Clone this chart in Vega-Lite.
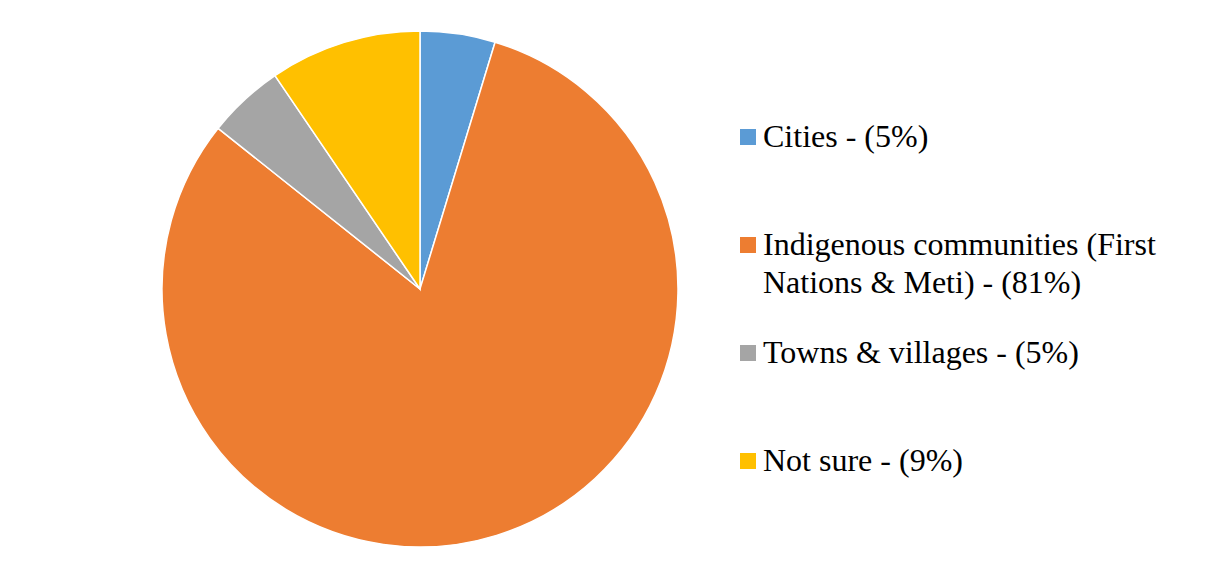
{
  "$schema": "https://vega.github.io/schema/vega-lite/v6.json",
  "width": 840,
  "height": 574,
  "padding": {"left": 0, "top": 2, "right": 385, "bottom": 0},
  "autosize": {"type": "none"},
  "background": "white",
  "config": {"view": {"stroke": null}, "style": {"guide-label": {"lineHeight": 38}}},
  "data": {
    "values": [
      {"i": 1, "category": "Cities - (5%)", "value": 4.7},
      {"i": 2, "category": "Indigenous communities (First Nations & Meti) - (81%)", "value": 81.0},
      {"i": 3, "category": "Towns & villages - (5%)", "value": 4.8},
      {"i": 4, "category": "Not sure - (9%)", "value": 9.5}
    ]
  },
  "mark": {"type": "arc", "outerRadius": 258, "stroke": "white", "strokeWidth": 1.5},
  "encoding": {
    "theta": {"field": "value", "type": "quantitative", "stack": true},
    "order": {"field": "i", "type": "quantitative"},
    "color": {
      "field": "category",
      "type": "nominal",
      "scale": {
        "domain": ["Cities - (5%)", "Indigenous communities (First Nations & Meti) - (81%)", "Towns & villages - (5%)", "Not sure - (9%)"],
        "range": ["#5B9BD5", "#ED7D31", "#A5A5A5", "#FFC000"]
      },
      "legend": {
        "title": null,
        "orient": "none",
        "legendX": 732,
        "legendY": 119,
        "direction": "vertical",
        "columns": 1,
        "gridAlign": "all",
        "symbolType": "square",
        "symbolSize": 256,
        "symbolStrokeWidth": 0,
        "labelFont": "Liberation Serif",
        "labelFontSize": 32,
        "labelColor": "#000000",
        "labelOffset": -1,
        "labelLimit": 0,
        "rowPadding": 38,
        "labelExpr": "datum.label == 'Indigenous communities (First Nations & Meti) - (81%)' ? ['Indigenous communities (First', 'Nations & Meti) - (81%)'] : datum.label"
      }
    }
  }
}
